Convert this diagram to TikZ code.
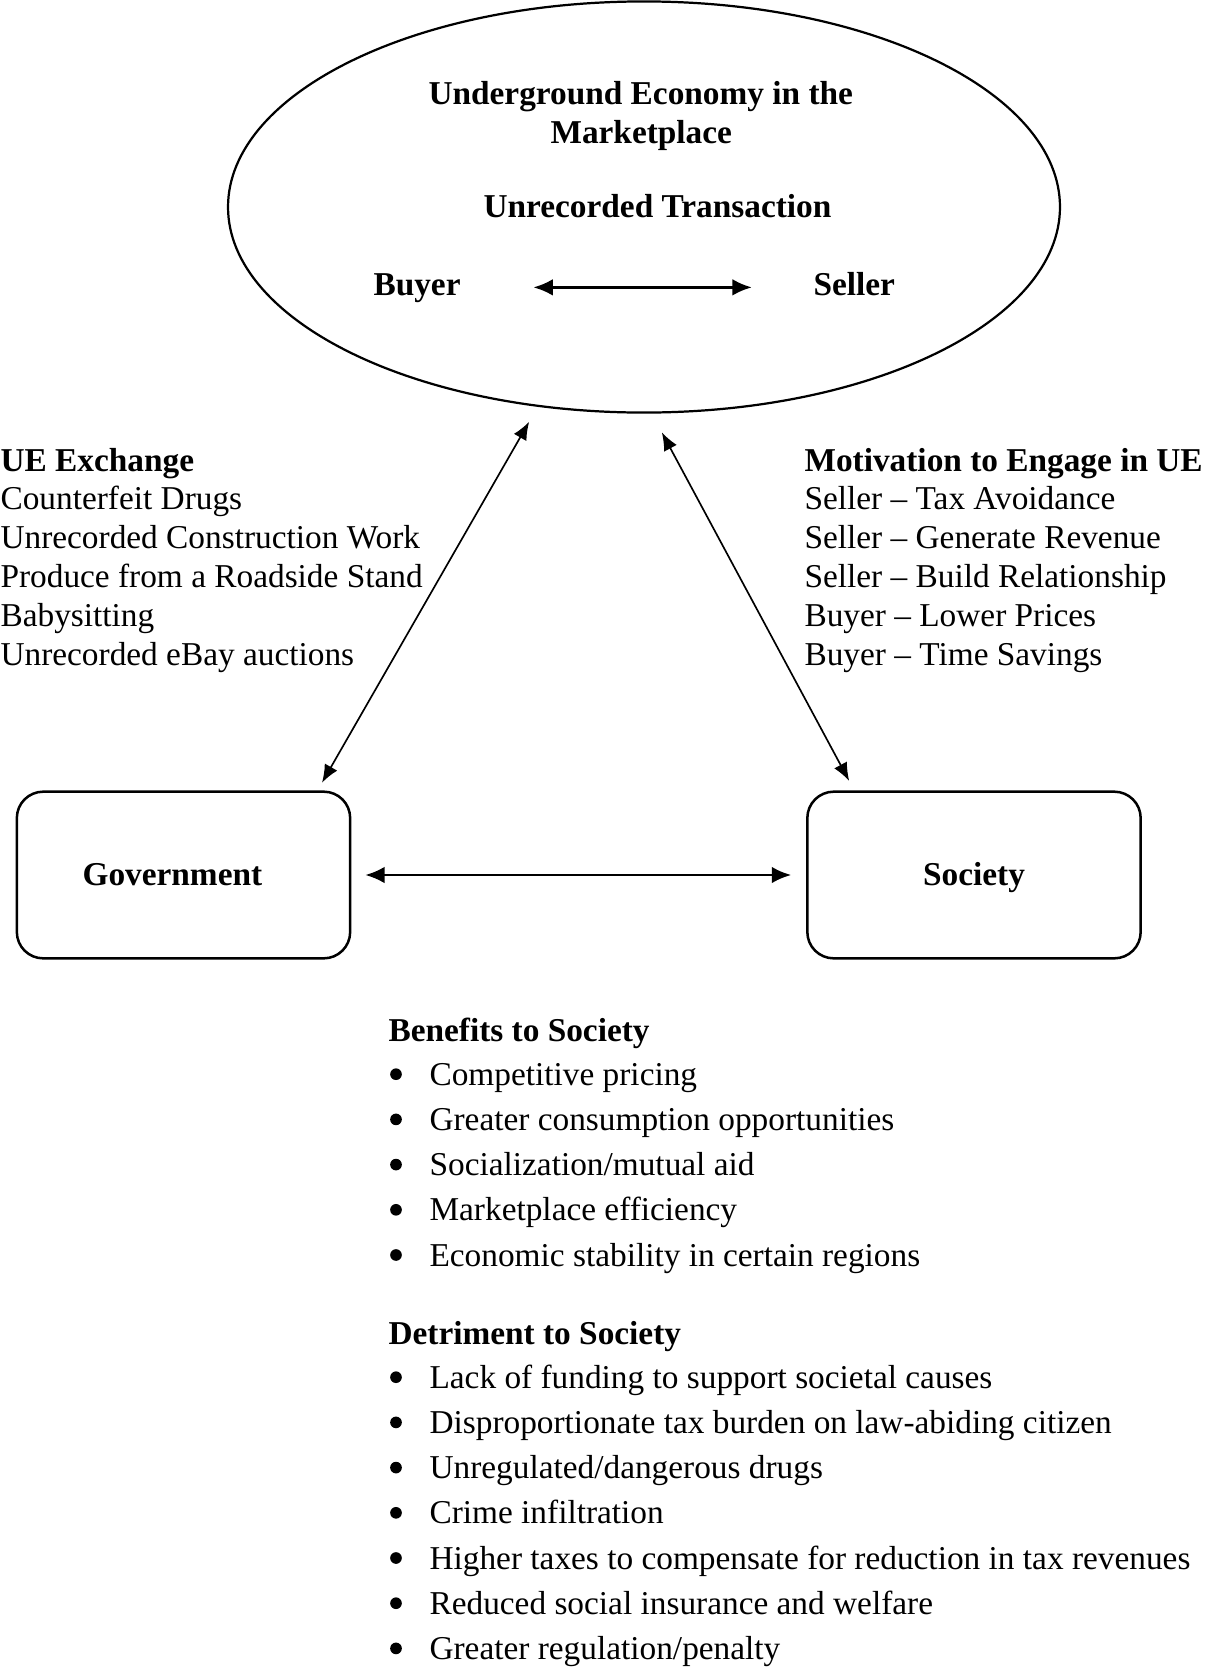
\documentclass[tikz,border=0pt]{standalone}
\usepackage{fontspec}
\setmainfont{Liberation Serif}
\usetikzlibrary{shapes.geometric,arrows.meta}

\tikzset{
  conn/.style={line width=0.6pt,{Latex[length=6.5pt,width=5.2pt]}-{Latex[length=6.5pt,width=5.2pt]}},
  thickconn/.style={line width=1pt,{Latex[length=7pt,width=6pt]}-{Latex[length=7pt,width=6pt]}},
  boxnode/.style={draw,line width=0.9pt,rounded corners=9.5pt,minimum width=120pt,
    minimum height=60pt,inner sep=0pt,outer sep=0pt,font=\bfseries,
    text height=10pt,text depth=2.5pt},
  txt/.style={anchor=base west,inner sep=0pt},
  head/.style={txt,font=\bfseries},
  actor/.style={head,text height=8pt,text depth=2.5pt},
  dot/.style={circle,fill,minimum size=4.2pt,inner sep=0pt},
}

\begin{document}
\fontsize{12}{14}\selectfont
\begin{tikzpicture}[x=0.36pt,y=-0.36pt]
        \useasboundingbox (0,0) rectangle (1206,1667);

        % Marketplace ellipse
        \node[draw,ellipse,line width=0.8pt,minimum width=299.5pt,minimum height=148pt,
          inner sep=0pt,outer sep=0pt] (market) at (644,207) {};
        \node[head] (title1) at (428,104) {Underground Economy in the};
        \node[head] (title2) at (550,143) {Marketplace};
        \node[head] (trans) at (483,217) {Unrecorded Transaction};
        \node[actor] (buyer) at (373,295) {Buyer};
        \node[actor] (seller) at (813,295) {Seller};
        \draw[thickconn,shorten <=26pt,shorten >=22pt] (buyer.east) -- (seller.west);

        % Boxes
        \node[boxnode] (gov) at (183.5,875) {Government\hspace*{8pt}};
        \node[boxnode] (soc) at (974,875) {Society};

        % Connectors
        \draw[conn,shorten <=6.6pt,shorten >=3.7pt] (market.242.4) -- (gov.32.6);
        \draw[conn,shorten <=8.1pt,shorten >=4.4pt] (market.272) -- (soc.145.3);
        \draw[thickconn,shorten <=5.4pt,shorten >=5.8pt] (gov.east) -- (soc.west);

        % UE exchange
        \node[head] (exch) at (0,471) {UE Exchange};
        \foreach \t [count=\i] in {Counterfeit Drugs,Unrecorded Construction Work,
            Produce from a Roadside Stand,Babysitting,Unrecorded eBay auctions}
          \node[txt] (exch\i) at (0,471+38.8*\i) {\t};

        % Motivation
        \node[head] (motiv) at (804,471) {Motivation to Engage in UE};
        \foreach \t [count=\i] in {Seller -- Tax Avoidance,Seller -- Generate Revenue,
            Seller -- Build Relationship,Buyer -- Lower Prices,Buyer -- Time Savings}
          \node[txt] (motiv\i) at (804,471+38.8*\i) {\t};

        % Benefits
        \node[head] (benef) at (388,1041) {Benefits to Society};
        \foreach \t [count=\i] in {Competitive pricing,Greater consumption opportunities,
            Socialization/mutual aid,Marketplace efficiency,Economic stability in certain regions}
          {
          \node[dot] (bdot\i) at (396,1029+45.2*\i) {};
          \node[txt] (benef\i) at (429,1040+45.2*\i) {\t};
          }

        % Detriment
        \node[head] (detr) at (388,1344) {Detriment to Society};
        \foreach \t [count=\i] in {Lack of funding to support societal causes,
            Disproportionate tax burden on law-abiding citizen,Unregulated/dangerous drugs,
            Crime infiltration,Higher taxes to compensate for reduction in tax revenues,
            Reduced social insurance and welfare,Greater regulation/penalty}
          {
          \node[dot] (ddot\i) at (396,1332+45.2*\i) {};
          \node[txt] (detr\i) at (429,1343+45.2*\i) {\t};
          }
\end{tikzpicture}
\end{document}
